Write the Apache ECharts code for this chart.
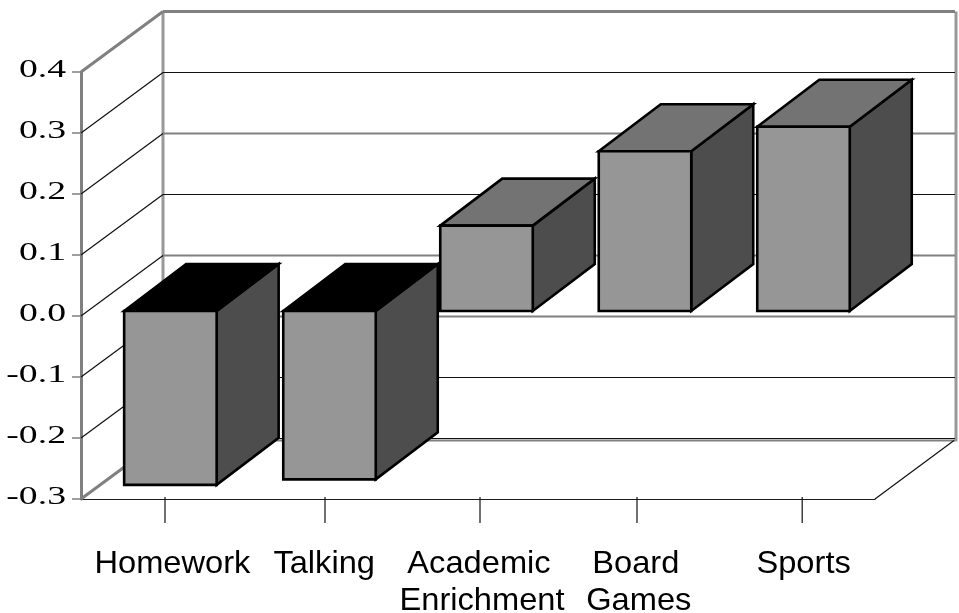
<!DOCTYPE html>
<html>
<head>
<meta charset="utf-8">
<style>html,body{margin:0;padding:0;background:#fff}#chart{width:959px;height:613px}</style>
<script src="https://cdn.jsdelivr.net/npm/echarts@6/dist/echarts.min.js"></script>
</head>
<body>
<div id="chart"></div>
<script>
// Chart content
const categories = ['Homework', 'Talking', 'Academic Enrichment', 'Board Games', 'Sports'];
const values = [-0.285, -0.276, 0.14, 0.262, 0.302];
const yTicks = [0.4, 0.3, 0.2, 0.1, 0, -0.1, -0.2, -0.3];
const yTickLabels = ['0.4', '0.3', '0.2', '0.1', '0.0', '-0.1', '-0.2', '-0.3'];

// Category label lines, and how far each sits from the centre of its band
const labelLines = [['Homework'], ['Talking'], ['Academic', 'Enrichment'], ['Board', 'Games'], ['Sports']];
const labelShift = [[12], [5], [1, 4], [-1, 2], [8]];
const tickShift = [4.6, 5.8, 2, 0.2, 6.6];
const barNudge = [1, 1.3, -0.5, -0.8, -1.1];

// Oblique projection of the box and of the columns standing in it
const WALL_DX = 82, WALL_DY = -60.5;
const BAR_DX = 62, BAR_DY = -47;
const BAR_SHIFT_X = 9, BAR_SHIFT_Y = -5, BAR_WIDTH = 92.5;

const THIN = { stroke: '#111111', lineWidth: 1.2 };
const WIDE = { stroke: '#808080', lineWidth: 2.2 };
const FRAME = { stroke: '#808080', lineWidth: 3 };
const SOFT = { stroke: '#999999', lineWidth: 3 };
const wallLine = [WIDE, THIN, WIDE, THIN, WIDE, WIDE, THIN, THIN];

const line = (x1, y1, x2, y2, style) => ({
  type: 'line', shape: { x1, y1, x2, y2 }, style: Object.assign({ fill: null }, style)
});
const poly = (points, fill, stroke, lineWidth) => ({
  type: 'polygon', shape: { points }, style: { fill, stroke, lineWidth, lineJoin: 'miter' }
});

function renderWallLine(params, api) {
  const i = params.dataIndex;
  const box = params.coordSys;
  const y = api.coord([0, api.value(0)])[1];
  const backX = box.x + WALL_DX;
  const backY = y + WALL_DY;
  const children = [];
  if (i === 0) {
    children.push(line(box.x, y, backX, backY, FRAME));
    children.push(line(backX, backY, box.x + box.width + WALL_DX - 2, backY, FRAME));
  } else if (i === yTicks.length - 1) {
    children.push(line(box.x, y, backX, backY, FRAME));
    children.push(line(backX, backY + 2, box.x + box.width + WALL_DX - 2, backY + 2, WIDE));
    children.push(line(backX, backY, box.x + box.width + WALL_DX - 2, backY, THIN));
    children.push(line(box.x + box.width, y, box.x + box.width + WALL_DX - 3, backY + 2, THIN));
  } else {
    children.push(line(box.x, y, backX, backY, THIN));
    children.push(line(backX, backY, box.x + box.width + WALL_DX - 2, backY, wallLine[i]));
  }
  return { type: 'group', children };
}

function renderWallFrame(params) {
  const box = params.coordSys;
  const top = box.y + WALL_DY;
  const bottom = box.y + box.height + WALL_DY + 3;
  const backX = box.x + WALL_DX;
  const rightX = box.x + box.width + WALL_DX - 1;
  return {
    type: 'group',
    children: [line(backX, top, backX, bottom, SOFT), line(rightX, top, rightX, bottom, SOFT)]
  };
}

function renderColumn(params, api) {
  const index = api.value(0);
  const v = api.value(1);
  const base = api.coord([index, 0]);
  const end = api.coord([index, v]);
  const left = base[0] + BAR_SHIFT_X + barNudge[index] - BAR_WIDTH / 2;
  const right = left + BAR_WIDTH;
  const y0 = base[1] + BAR_SHIFT_Y;
  const y1 = end[1] + BAR_SHIFT_Y;
  const top = Math.min(y0, y1);
  const bottom = Math.max(y0, y1);
  return {
    type: 'group',
    children: [
      poly([[right, top], [right + BAR_DX, top + BAR_DY], [right + BAR_DX, bottom + BAR_DY], [right, bottom]], '#4d4d4d', '#000', 2.6),
      poly([[left, top], [left + BAR_DX, top + BAR_DY], [right + BAR_DX, top + BAR_DY], [right, top]], v < 0 ? '#000000' : '#737373', '#000', 2.6),
      poly([[left, top], [right, top], [right, bottom], [left, bottom]], '#969696', '#000', 2.6)
    ]
  };
}

function renderCategoryLabel(params, api) {
  const i = params.dataIndex;
  const pt = api.coord([i, 0]);
  const box = params.coordSys;
  const floor = box.y + box.height;
  const children = [line(pt[0] + tickShift[i], floor - 2, pt[0] + tickShift[i], floor + 24, THIN)];
  labelLines[i].forEach((text, row) => {
    children.push({
      type: 'text', x: pt[0] + labelShift[i][row], y: floor + 65 + row * 37, scaleX: 1.02,
      style: {
        text, x: 0, y: 0, fill: '#000', font: '32px "Liberation Sans", Arial, sans-serif',
        align: 'center', verticalAlign: 'middle', textAlign: 'center', textVerticalAlign: 'middle'
      }
    });
  });
  return { type: 'group', children };
}

function renderValueLabel(params, api) {
  const box = params.coordSys;
  const y = api.coord([0, api.value(0)])[1];
  return {
    type: 'text', x: box.x - 15, y: y - 2, scaleX: 1.45,
    style: {
      text: yTickLabels[params.dataIndex], x: 0, y: 0, fill: '#000',
      font: '26px "Liberation Serif", "Times New Roman", serif',
      align: 'right', verticalAlign: 'middle', textAlign: 'right', textVerticalAlign: 'middle'
    }
  };
}

const chart = echarts.init(document.getElementById('chart'), null, { renderer: 'canvas' });
chart.setOption({
  animation: false,
  backgroundColor: '#ffffff',
  grid: { left: 81, right: 84, top: 72, bottom: 114 },
  xAxis: {
    type: 'category',
    data: categories,
    axisLine: { onZero: false, lineStyle: { color: '#1c1c1c', width: 1 } },
    axisTick: { show: false },
    axisLabel: { show: false }
  },
  yAxis: {
    type: 'value',
    min: -0.3,
    max: 0.4,
    interval: 0.1,
    splitLine: { show: false },
    axisLine: { show: true, lineStyle: { color: '#808080', width: 3 } },
    axisTick: { show: true, length: 9, lineStyle: { color: '#808080', width: 1.5 } },
    axisLabel: { show: false }
  },
  series: [
    { type: 'custom', z: 1, renderItem: renderWallFrame, data: [[0]], silent: true, encode: { y: 0 } },
    { type: 'custom', z: 2, renderItem: renderWallLine, data: yTicks.map(v => [v]), silent: true, encode: { y: 0 } },
    { type: 'custom', z: 3, renderItem: renderColumn, data: values.map((v, i) => [i, v]), encode: { x: 0, y: 1 } },
    { type: 'custom', z: 4, renderItem: renderCategoryLabel, data: categories.map((c, i) => [i]), silent: true, encode: { x: 0 } },
    { type: 'custom', z: 4, renderItem: renderValueLabel, data: yTicks.map(v => [v]), silent: true, encode: { y: 0 } }
  ]
});
</script>
</body>
</html>
